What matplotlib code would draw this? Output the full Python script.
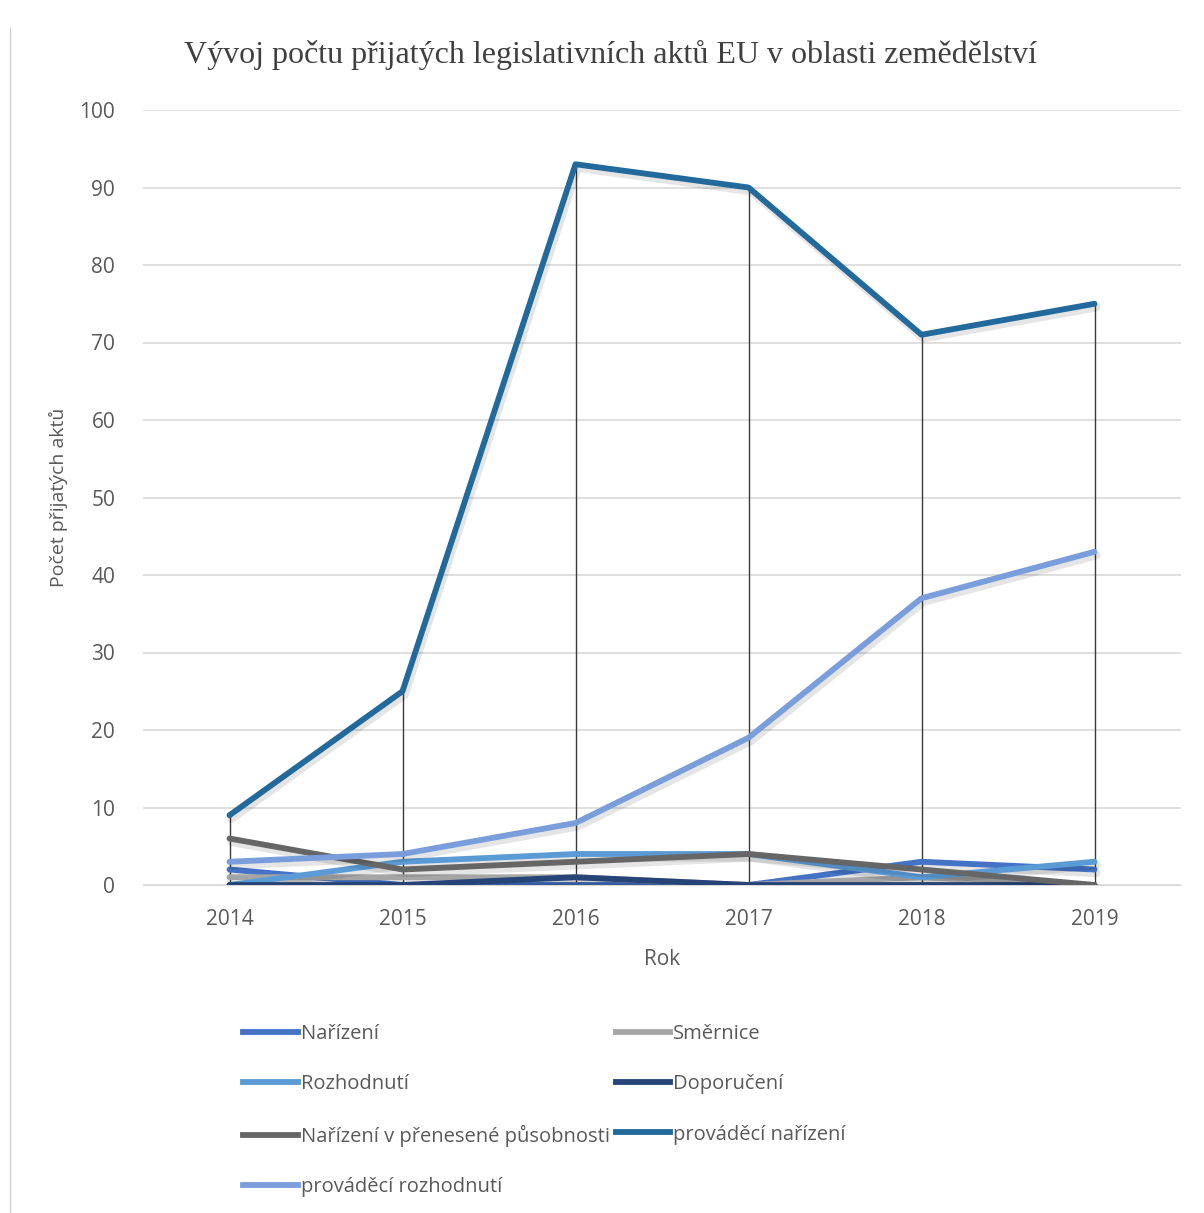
import matplotlib.pyplot as plt
import matplotlib.patheffects as pe
from matplotlib.lines import Line2D

years = ['2014', '2015', '2016', '2017', '2018', '2019']

narizeni = [2, 0, 0, 0, 3, 2]
smernice = [1, 1, 1, 0, 1, 0]
rozhodnuti = [0, 3, 4, 4, 1, 3]
doporuceni = [0, 0, 1, 0, 0, 0]
narizeni_prenesene = [6, 2, 3, 4, 2, 0]
provadeci_narizeni = [9, 25, 93, 90, 71, 75]
provadeci_rozhodnuti = [3, 4, 8, 19, 37, 43]

series = [
    ('Nařízení', narizeni, '#4472C4'),
    ('Směrnice', smernice, '#A5A5A5'),
    ('Rozhodnutí', rozhodnuti, '#5B9BD5'),
    ('Doporučení', doporuceni, '#264478'),
    ('Nařízení v přenesené působnosti', narizeni_prenesene, '#666666'),
    ('prováděcí nařízení', provadeci_narizeni, '#22699C'),
    ('prováděcí rozhodnutí', provadeci_rozhodnuti, '#7A9EDC'),
]

sans = ['Open Sans', 'DejaVu Sans']
txt_color = '#595959'

fig = plt.figure(figsize=(12.04, 12.13), dpi=100)
ax = fig.add_axes([143 / 1204, 1 - 885 / 1213, 1038 / 1204, 775 / 1213])

x = list(range(len(years)))

# high-low lines
ax.vlines(x, 0, provadeci_narizeni, color='#3a3a3a', linewidth=1.0, zorder=2)

shadow = [pe.SimpleLineShadow(offset=(1.5, -2.5), shadow_color='black', alpha=0.10, linewidth=6),
          pe.Normal()]
for name, vals, col in series:
    ax.plot(x, vals, color=col, linewidth=4.2, solid_capstyle='round',
            path_effects=shadow, zorder=3)

ax.set_xlim(-0.5, 5.5)
ax.set_ylim(0, 100)
ax.set_yticks(range(0, 101, 10))
ax.set_xticks(x)
ax.set_xticklabels(years)
ax.grid(axis='y', color='#D9D9D9', linewidth=1.2)
ax.set_axisbelow(True)
for s in ['top', 'right', 'left']:
    ax.spines[s].set_visible(False)
ax.spines['bottom'].set_color('#D9D9D9')
ax.tick_params(axis='both', length=0, labelsize=15, colors=txt_color)
ax.tick_params(axis='x', pad=17)
ax.tick_params(axis='y', pad=20)
for lab in ax.get_xticklabels() + ax.get_yticklabels():
    lab.set_family(sans)

ax.set_xlabel('Rok', fontsize=15, color=txt_color, family=sans, labelpad=14)
ax.set_ylabel('Počet přijatých aktů', fontsize=14, color=txt_color, family=sans, labelpad=8)

fig.text(610 / 1204, 1 - 55 / 1213, 'Vývoj počtu přijatých legislativních aktů EU v oblasti zemědělství',
         ha='center', va='center', fontsize=23, color='#404040', family=['Liberation Serif', 'DejaVu Serif'])

# legend in Excel row order
handles = [Line2D([], [], color=c, linewidth=4.2) for _, _, c in series]
labels = [n for n, _, _ in series]
order = [0, 2, 4, 6, 1, 3, 5]
leg = fig.legend([handles[i] for i in order], [labels[i] for i in order],
                 loc='upper left', bbox_to_anchor=(225 / 1204, 1 - 1006 / 1213),
                 ncol=2, frameon=False, handlelength=2.7, handletextpad=0.15,
                 columnspacing=0.3, labelspacing=1.5,
                 prop={'family': sans, 'size': 14.5})
for t in leg.get_texts():
    t.set_color(txt_color)

# thin border at left edge
fig.add_artist(Line2D([10 / 1204, 10 / 1204], [0, 1 - 28 / 1213], color='#D0D0D0', linewidth=1))

fig.savefig('out.png', dpi=100)
